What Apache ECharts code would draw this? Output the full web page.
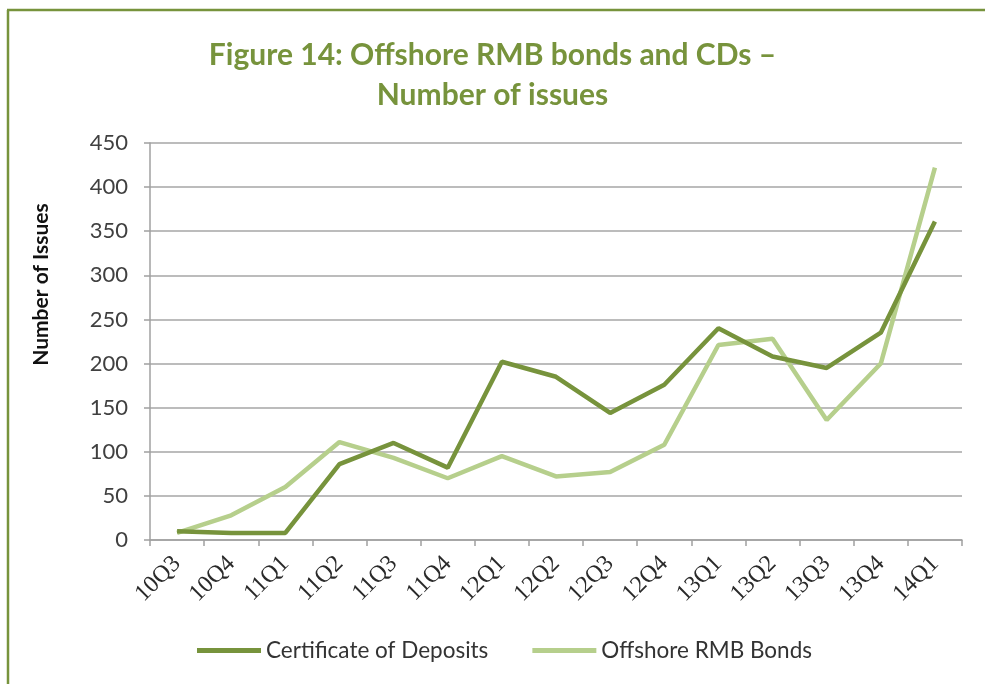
<!DOCTYPE html>
<html>
<head>
<meta charset="utf-8">
<script src="https://cdn.jsdelivr.net/npm/echarts@6/dist/echarts.min.js"></script>
<style>
html,body{margin:0;padding:0;background:#fff;}
#c{width:985px;height:684px;}
</style>
</head>
<body>
<div id="c"></div>
<script>
const categories = ['10Q3','10Q4','11Q1','11Q2','11Q3','11Q4','12Q1','12Q2','12Q3','12Q4','13Q1','13Q2','13Q3','13Q4','14Q1'];
const certificateOfDeposits = [10, 8, 8, 86, 110, 82, 202, 185, 144, 176, 240, 208, 195, 235, 361];
const offshoreRmbBonds = [8, 28, 60, 111, 93, 70, 95, 72, 77, 108, 221, 228, 136, 200, 422];
const seriesNames = ['Certificate of Deposits', 'Offshore RMB Bonds'];
const titleText = 'Figure 14: Offshore RMB bonds and CDs \u2013\nNumber of issues';
const yAxisName = 'Number of Issues';

const FONT = 'Lato, "Open Sans", sans-serif';
const chart = echarts.init(document.getElementById('c'), null, {renderer: 'canvas'});
chart.setOption({
  backgroundColor: '#ffffff',
  animation: false,
  graphic: [
    {type: 'line', shape: {x1: 8, y1: 10, x2: 8, y2: 684}, style: {stroke: '#77933c', lineWidth: 2.5}},
    {type: 'line', shape: {x1: 7, y1: 10, x2: 985, y2: 10}, style: {stroke: '#77933c', lineWidth: 2.5}}
  ],
  title: {
    text: titleText,
    left: 'center',
    top: 30,
    textStyle: {
      fontFamily: FONT,
      fontSize: 30,
      fontWeight: 'bold',
      color: '#77933c',
      lineHeight: 40
    }
  },
  legend: {
    bottom: 17,
    left: 192,
    icon: 'rect',
    itemWidth: 64,
    itemHeight: 5,
    itemGap: 44,
    textStyle: {fontFamily: FONT, fontSize: 22.5, color: '#333'},
    data: seriesNames
  },
  grid: {left: 150, right: 23, top: 143, bottom: 144, containLabel: false},
  xAxis: {
    type: 'category',
    data: categories,
    boundaryGap: true,
    axisLine: {show: true, lineStyle: {color: '#a0a0a0', width: 1.5}},
    axisTick: {show: true, length: 6, lineStyle: {color: '#a0a0a0', width: 1.5}},
    axisLabel: {rotate: 45, margin: 20, fontFamily: '"Liberation Serif", serif', fontSize: 24, color: '#2a2a2a', interval: 0},
    splitLine: {show: false}
  },
  yAxis: {
    type: 'value',
    min: 0,
    max: 450,
    interval: 50,
    name: yAxisName,
    nameLocation: 'middle',
    nameGap: 98,
    nameRotate: 90,
    nameTextStyle: {fontFamily: FONT, fontSize: 21, fontWeight: 'bold', color: '#111', padding: [0, 0, 0, 114]},
    axisLine: {show: true, lineStyle: {color: '#a0a0a0', width: 1.5}},
    axisTick: {show: true, length: 6, lineStyle: {color: '#a0a0a0', width: 1.5}},
    axisLabel: {margin: 22, fontFamily: FONT, fontSize: 22, color: '#404040'},
    splitLine: {show: true, lineStyle: {color: '#a6a6a6', width: 1.5}}
  },
  series: [
    {
      name: seriesNames[0],
      type: 'line',
      data: certificateOfDeposits,
      symbol: 'none',
      lineStyle: {color: '#77933c', width: 4.5},
      itemStyle: {color: '#77933c'},
      z: 3
    },
    {
      name: seriesNames[1],
      type: 'line',
      data: offshoreRmbBonds,
      symbol: 'none',
      lineStyle: {color: '#b6cf8c', width: 4.5},
      itemStyle: {color: '#b6cf8c'},
      z: 2
    }
  ]
});
</script>
</body>
</html>
